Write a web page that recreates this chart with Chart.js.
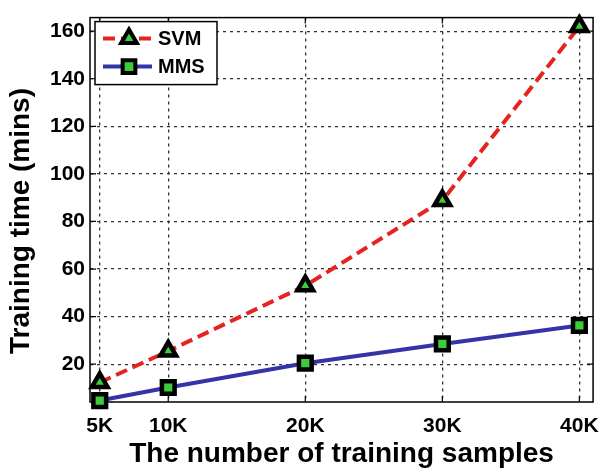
<!DOCTYPE html>
<html>
<head>
<meta charset="utf-8">
<script src="https://cdn.jsdelivr.net/npm/chart.js@4.4.1/dist/chart.umd.min.js"></script>
<style>
html,body{margin:0;padding:0;background:#fff;}
#wrap{width:611px;height:473px;position:relative;}
</style>
</head>
<body>
<div id="wrap"><canvas id="c" width="611" height="473"></canvas></div>
<script>
// Data (training samples in thousands)
const categories = [5, 10, 20, 30, 40];
const svmValues = [12.3, 25.5, 53, 88.8, 162];
const mmsValues = [4.7, 10.2, 20.4, 28.5, 36.3];
const yTickValues = [20, 40, 60, 80, 100, 120, 140, 160];
const xTickValues = [5, 10, 20, 30, 40];
const seriesNames = ['SVM', 'MMS'];
const xTitle = 'The number of training samples';
const yTitle = 'Training time (mins)';

const FONT = '"Liberation Sans", Arial, sans-serif';
const RED = '#e5231f';
const BLUE = '#3434a8';
const GREEN = '#3ccc3c';

function toPoints(vals){ return categories.map((c,i)=>({x:c, y:vals[i]})); }

const framePlugin = {
  id: 'frame',
  beforeDatasetsDraw(chart){
    const {ctx, chartArea:a} = chart;
    ctx.save();
    ctx.strokeStyle = '#000';
    ctx.lineWidth = 1.5;
    ctx.setLineDash([]);
    ctx.strokeRect(a.left, a.top, a.right - a.left, a.bottom - a.top);
    const xs = chart.scales.x, ys = chart.scales.y;
    ctx.lineWidth = 1.2;
    ctx.beginPath();
    xTickValues.forEach(v=>{
      const px = xs.getPixelForValue(v);
      ctx.moveTo(px, a.bottom); ctx.lineTo(px, a.bottom - 6);
      ctx.moveTo(px, a.top); ctx.lineTo(px, a.top + 6);
    });
    yTickValues.forEach(v=>{
      const py = ys.getPixelForValue(v);
      ctx.moveTo(a.left, py); ctx.lineTo(a.left + 6, py);
      ctx.moveTo(a.right, py); ctx.lineTo(a.right - 6, py);
    });
    ctx.stroke();
    ctx.restore();
  },
  afterDatasetsDraw(chart){
    const {ctx} = chart;
    const a = chart.chartArea;
    const bx = a.left + 5, by = a.top + 4, bw = 122, bh = 63;
    ctx.save();
    ctx.fillStyle = '#fff';
    ctx.fillRect(bx, by, bw, bh);
    ctx.strokeStyle = '#000';
    ctx.lineWidth = 1.5;
    ctx.strokeRect(bx, by, bw, bh);
    const ds = chart.data.datasets;
    const rows = [by + 17, by + 45];
    ds.forEach((d, i)=>{
      const y = rows[i];
      ctx.strokeStyle = d.borderColor;
      ctx.lineWidth = 4;
      ctx.setLineDash(d.borderDash || []);
      ctx.beginPath();
      ctx.moveTo(bx + 8, y); ctx.lineTo(bx + 57, y);
      ctx.stroke();
      ctx.setLineDash([]);
      ctx.fillStyle = d.pointBackgroundColor;
      ctx.strokeStyle = d.pointBorderColor;
      Chart.helpers.drawPoint(ctx, {pointStyle: d.pointStyle, radius: d.pointRadius, borderWidth: d.pointBorderWidth, rotation: 0}, bx + 34, y);
      ctx.fillStyle = '#000';
      ctx.font = 'bold 20px ' + FONT;
      ctx.textBaseline = 'middle';
      ctx.textAlign = 'left';
      ctx.fillText(d.label, bx + 63, y + 1);
    });
    // y axis title
    ctx.translate(21, 221);
    ctx.rotate(-Math.PI / 2);
    ctx.font = 'bold 28px ' + FONT;
    ctx.textAlign = 'center';
    ctx.textBaseline = 'middle';
    ctx.fillStyle = '#000';
    ctx.fillText(yTitle, 0, 0);
    ctx.restore();
  }
};

new Chart(document.getElementById('c'), {
  type: 'line',
  data: {
    datasets: [
      {
        label: seriesNames[0],
        data: toPoints(svmValues),
        borderColor: RED,
        borderWidth: 4,
        borderDash: [12, 6],
        pointStyle: 'triangle',
        pointRadius: 9,
        pointBorderWidth: 4.5,
        pointBackgroundColor: GREEN,
        pointBorderColor: '#000',
        pointHoverRadius: 9,
        clip: false,
        tension: 0
      },
      {
        label: seriesNames[1],
        data: toPoints(mmsValues),
        borderColor: BLUE,
        borderWidth: 4,
        pointStyle: 'rect',
        pointRadius: 9,
        pointBorderWidth: 4.5,
        pointBackgroundColor: GREEN,
        pointBorderColor: '#000',
        pointHoverRadius: 9,
        clip: false,
        tension: 0
      }
    ]
  },
  options: {
    responsive: false,
    animation: false,
    events: [],
    layout: { padding: { top: 5, right: 7, left: 0, bottom: 0 } },
    plugins: { legend: { display: false }, tooltip: { enabled: false } },
    scales: {
      x: {
        type: 'linear',
        min: 4.29,
        max: 41,
        afterBuildTicks(scale){ scale.ticks = xTickValues.map(v=>({value:v})); },
        afterFit(scale){ scale.height = 71; },
        ticks: {
          callback: v => v + 'K',
          color: '#000',
          font: { family: FONT, size: 21, weight: 'bold' },
          padding: 12,
          maxRotation: 0,
          autoSkip: false
        },
        grid: { color: '#333', lineWidth: 1.3, drawTicks: false },
        border: { display: false, dash: [3, 4] },
        title: {
          display: true,
          text: xTitle,
          color: '#000',
          font: { family: FONT, size: 28, weight: 'bold' },
          padding: { top: 0, bottom: 2 }
        }
      },
      y: {
        type: 'linear',
        min: 4.1,
        max: 165.7,
        afterBuildTicks(scale){ scale.ticks = yTickValues.map(v=>({value:v})); },
        afterFit(scale){ scale.width = 90; },
        ticks: {
          color: '#000',
          font: { family: FONT, size: 21, weight: 'bold' },
          padding: 5,
          autoSkip: false
        },
        grid: { color: '#333', lineWidth: 1.3, drawTicks: false },
        border: { display: false, dash: [3, 4] },
        title: { display: false }
      }
    }
  },
  plugins: [framePlugin]
});
</script>
</body>
</html>
